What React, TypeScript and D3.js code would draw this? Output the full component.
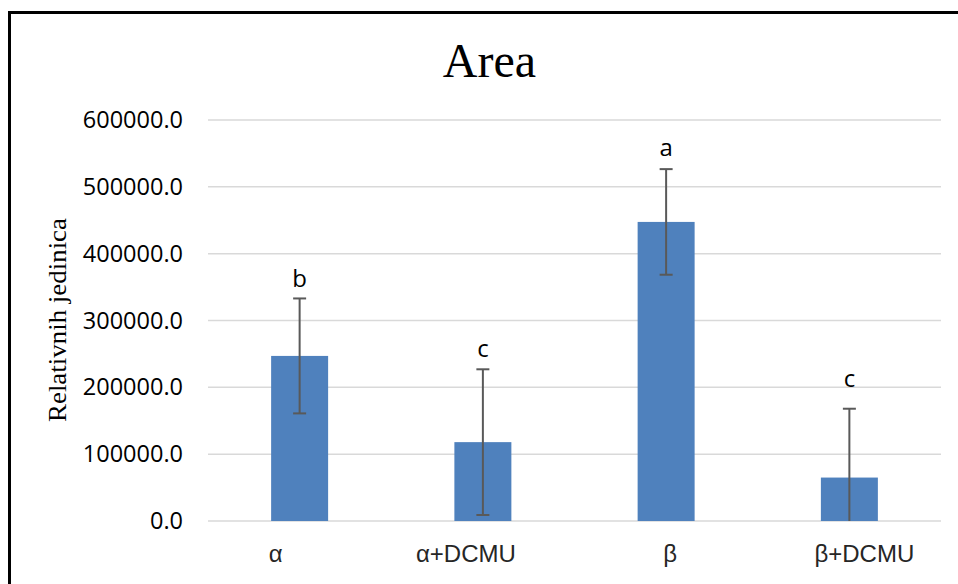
import React from "react";
import * as d3 from "d3";

const categories = ["α", "α+DCMU", "β", "β+DCMU"];
const means = [247000, 118000, 447500, 65000];
const errors = [86000, 109000, 79000, 103000];
const letters = ["b", "c", "a", "c"];
const letterY = [350000, 245500, 546000, 200500];
const yTicks = [0, 100000, 200000, 300000, 400000, 500000, 600000];
const labelDx = [-24, -17, 4, 15];

export default function App() {
  const W = 958, H = 584;
  const x = d3.scaleBand<string>().domain(categories).range([208, 941]).paddingInner(0.689).paddingOuter(0.3445);
  const y = d3.scaleLinear().domain([0, 600000]).range([521, 120]);
  const bw = x.bandwidth();
  const fmt = (v: number) => d3.format(".1f")(v);
  return (
    <svg width={W} height={H} style={{ position: "absolute", left: 0, top: 0, background: "#fff" }}>
      <rect x={0} y={0} width={W} height={H} fill="#fff" />
      <rect x={9.5} y={12.5} width={W + 20} height={H + 20} fill="none" stroke="#000" strokeWidth={3} />
      <text x={489.5} y={77} textAnchor="middle" fontFamily="'Liberation Serif', serif" fontSize={48} fill="#000">Area</text>
      <text transform="translate(66,320) rotate(-90)" textAnchor="middle" fontFamily="'Liberation Serif', serif" fontSize={26} textLength={204} lengthAdjust="spacingAndGlyphs" fill="#000">Relativnih jedinica</text>
      {yTicks.map((t) => (
        <g key={t}>
          <line x1={208} x2={941} y1={y(t)} y2={y(t)} stroke="#D9D9D9" strokeWidth={1.5} />
          <text x={183} y={y(t) + 8} textAnchor="end" fontFamily="'Open Sans', sans-serif" fontSize={23.5} fill="#000">{fmt(t)}</text>
        </g>
      ))}
      {categories.map((c, i) => {
        const cx = (x(c) as number) + bw / 2;
        const hi = means[i] + errors[i];
        const lo = Math.max(0, means[i] - errors[i]);
        const clipped = means[i] - errors[i] < 0;
        return (
          <g key={c}>
            <rect x={x(c)} y={y(means[i])} width={bw} height={y(0) - y(means[i])} fill="#4F81BD" />
            <line x1={cx} x2={cx} y1={y(hi)} y2={y(lo)} stroke="#595959" strokeWidth={2} />
            <line x1={cx - 6.5} x2={cx + 6.5} y1={y(hi)} y2={y(hi)} stroke="#595959" strokeWidth={2} />
            {!clipped && <line x1={cx - 6.5} x2={cx + 6.5} y1={y(lo)} y2={y(lo)} stroke="#595959" strokeWidth={2} />}
            <text x={cx} y={y(letterY[i])} textAnchor="middle" fontFamily="'Open Sans', sans-serif" fontSize={24} fill="#000">{letters[i]}</text>
            <text x={cx + labelDx[i]} y={562} textAnchor="middle" fontFamily="'Liberation Sans', sans-serif" fontSize={24} fill="#262626">{c}</text>
          </g>
        );
      })}
    </svg>
  );
}
